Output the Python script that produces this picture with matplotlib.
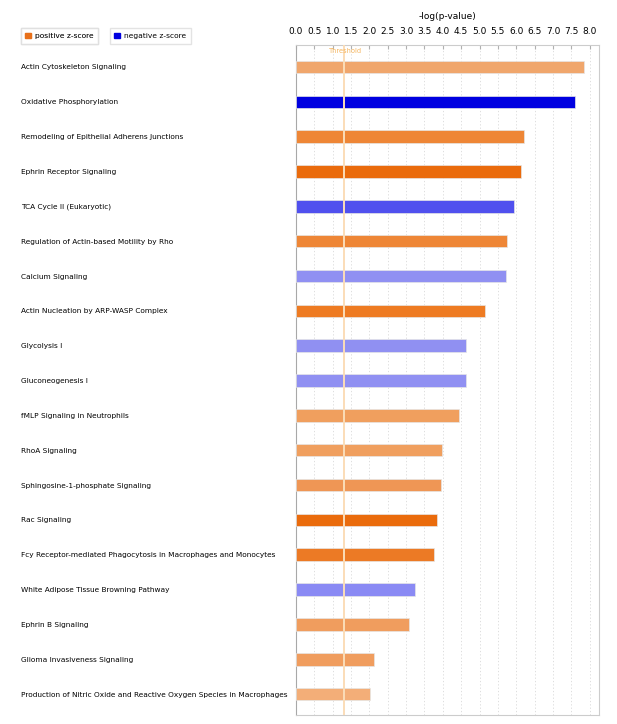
import matplotlib.pyplot as plt
from matplotlib.patches import Patch

pathways = ['Actin Cytoskeleton Signaling',
            'Oxidative Phosphorylation',
            'Remodeling of Epithelial Adherens Junctions',
            'Ephrin Receptor Signaling',
            'TCA Cycle II (Eukaryotic)',
            'Regulation of Actin-based Motility by Rho',
            'Calcium Signaling',
            'Actin Nucleation by ARP-WASP Complex',
            'Glycolysis I',
            'Gluconeogenesis I',
            'fMLP Signaling in Neutrophils',
            'RhoA Signaling',
            'Sphingosine-1-phosphate Signaling',
            'Rac Signaling',
            'Fcy Receptor-mediated Phagocytosis in Macrophages and Monocytes',
            'White Adipose Tissue Browning Pathway',
            'Ephrin B Signaling',
            'Glioma Invasiveness Signaling',
            'Production of Nitric Oxide and Reactive Oxygen Species in Macrophages']
logp = [7.86, 7.59, 6.22, 6.12, 5.95, 5.75, 5.72, 5.16, 4.63, 4.63,
        4.44, 3.97, 3.94, 3.84, 3.76, 3.23, 3.09, 2.13, 2.01]
bar_colors = ['#F0A66C', '#0000E0', '#EE8636', '#EA6B0C', '#5050EE', '#EE8636',
              '#9090F2', '#EE7B22', '#9090F2', '#9090F2', '#F09F5E', '#F09F5E',
              '#EF9655', '#EA6B0C', '#EC7A25', '#8A8AF4', '#F09D5E', '#F09D5E',
              '#F3AE78']
threshold = 1.3
xticks = [i * 0.5 for i in range(17)]

fig = plt.figure(figsize=(6.17, 7.24), dpi=100)
ax = fig.add_axes([0.4797, 0.0124, 0.4908, 0.9259])

ypos = list(range(len(pathways)))
ax.barh(ypos, logp, height=0.36, color=bar_colors, edgecolor='#E6E6E6', linewidth=0.5, zorder=3)
ax.axvline(threshold, color='#FBDDB8', lw=1.4, zorder=4)
ax.text(threshold + 0.05, -0.46, 'Threshold', fontsize=4.8, color='#F5B55E',
        ha='center', va='center', zorder=5)

ax.set_xlim(0, 8.25)
ax.set_ylim(len(pathways) - 0.4, -0.64)
ax.set_xticks(xticks)
ax.set_xticklabels(['%.1f' % t for t in xticks])
ax.xaxis.tick_top()
ax.xaxis.set_label_position('top')
ax.set_xlabel('-log(p-value)', fontsize=6.5, labelpad=6)
ax.tick_params(axis='x', direction='in', length=3, color='#B0B0B0', labelsize=6.5, pad=6)
ax.grid(axis='x', linestyle=(0, (1.5, 2.5)), color='#D8D8D8', lw=0.6, zorder=0)

ax.set_yticks(ypos)
ax.set_yticklabels(pathways, fontsize=5.3)
ax.tick_params(axis='y', length=0, pad=198)
for label in ax.get_yticklabels():
    label.set_ha('left')

for s in ['top', 'right', 'bottom']:
    ax.spines[s].set_color('#CCCCCC')
ax.spines['left'].set_color('#A8A8A8')

leg_kw = dict(loc='upper left', fontsize=5.4, handlelength=0.8, handleheight=0.8,
              handletextpad=0.5, fancybox=False, edgecolor='#DDDDDD',
              borderpad=0.6, borderaxespad=0)
leg1 = fig.legend(handles=[Patch(color='#E8701A', label='positive z-score')],
                  bbox_to_anchor=(0.034, 0.961), **leg_kw)
fig.add_artist(leg1)
fig.legend(handles=[Patch(color='#0000E0', label='negative z-score')],
           bbox_to_anchor=(0.178, 0.961), **leg_kw)

fig.savefig('out.png', dpi=100)
